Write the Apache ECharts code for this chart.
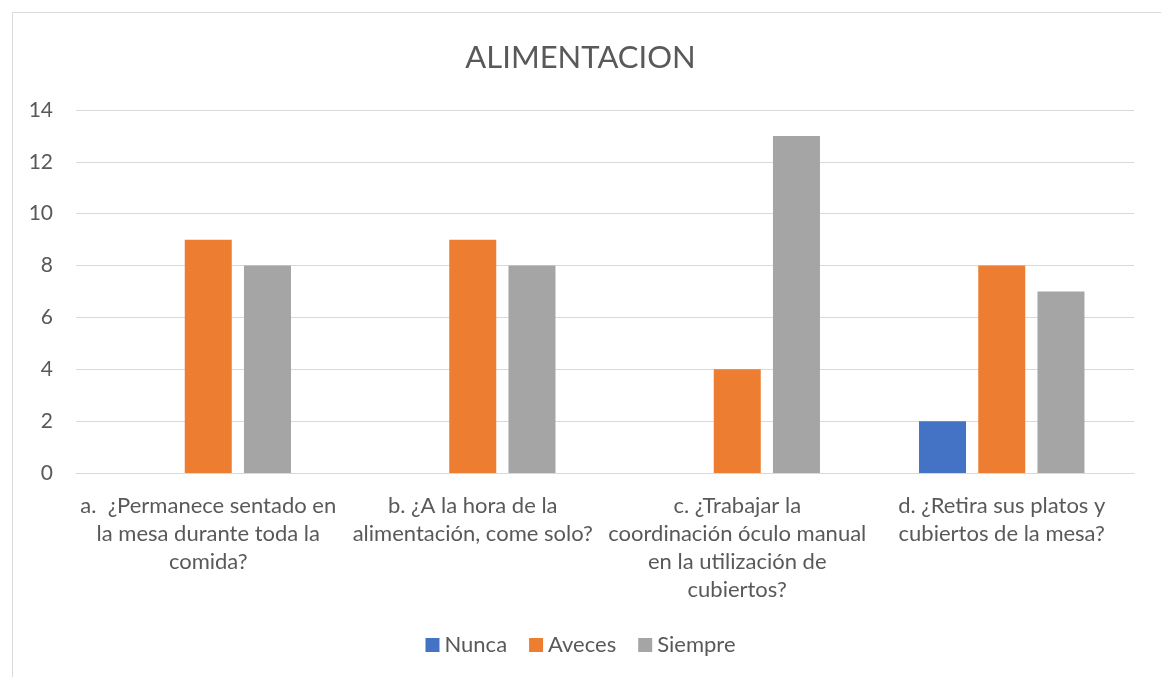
<!DOCTYPE html>
<html>
<head>
<meta charset="utf-8">
<script src="https://cdn.jsdelivr.net/npm/echarts@6/dist/echarts.min.js"></script>
<style>
  html, body { margin: 0; padding: 0; background: #fff; }
  #chart { width: 1161px; height: 677px; }
</style>
</head>
<body>
<div id="chart"></div>
<script>
// categorias del eje x (con saltos de linea como en el original)
var categorias = [
  'a.  ¿Permanece sentado en\nla mesa durante toda la\ncomida?',
  'b. ¿A la hora de la\nalimentación, come solo?',
  'c. ¿Trabajar la\ncoordinación óculo manual\nen la utilización de\ncubiertos?',
  'd. ¿Retira sus platos y\ncubiertos de la mesa?'
];
var nunca = [0, 0, 0, 2];
var aveces = [9, 9, 4, 8];
var siempre = [8, 8, 13, 7];

var fuente = 'Lato, "Noto Sans", sans-serif';
var gris = '#595959';

var chart = echarts.init(document.getElementById('chart'));
chart.setOption({
  backgroundColor: '#fff',
  animation: false,
  textStyle: { fontFamily: fuente },
  title: {
    text: 'ALIMENTACION',
    left: 'center',
    top: 37,
    textStyle: { fontFamily: fuente, fontSize: 31, fontWeight: 'normal', color: gris }
  },
  legend: {
    bottom: 16,
    left: 'center',
    itemWidth: 14,
    itemHeight: 14,
    itemGap: 22,
    icon: 'rect',
    textStyle: { fontFamily: fuente, fontSize: 22, color: gris },
    data: ['Nunca', 'Aveces', 'Siempre']
  },
  grid: { left: 76, right: 27, top: 110, bottom: 204, containLabel: false },
  xAxis: {
    type: 'category',
    data: categorias,
    axisLine: { lineStyle: { color: '#d9d9d9' } },
    axisTick: { show: false },
    axisLabel: {
      interval: 0,
      margin: 19,
      fontFamily: fuente,
      fontSize: 22,
      lineHeight: 28,
      color: gris,
      align: 'center'
    }
  },
  yAxis: {
    type: 'value',
    min: 0,
    max: 14,
    interval: 2,
    axisLine: { show: false },
    axisTick: { show: false },
    splitLine: { lineStyle: { color: '#d9d9d9', width: 1 } },
    axisLabel: { fontFamily: fuente, fontSize: 21, color: gris, margin: 23 }
  },
  series: [
    { name: 'Nunca', type: 'bar', data: nunca, barWidth: 47, barGap: '26%', itemStyle: { color: '#4472C4' } },
    { name: 'Aveces', type: 'bar', data: aveces, barWidth: 47, barGap: '26%', itemStyle: { color: '#ED7D31' } },
    { name: 'Siempre', type: 'bar', data: siempre, barWidth: 47, barGap: '26%', itemStyle: { color: '#A5A5A5' } }
  ],
  graphic: [{
    type: 'rect',
    silent: true,
    shape: { x: 12.5, y: 12.5, width: 1170, height: 700 },
    style: { fill: null, stroke: '#d9d9d9', lineWidth: 1 }
  }]
});
</script>
</body>
</html>
